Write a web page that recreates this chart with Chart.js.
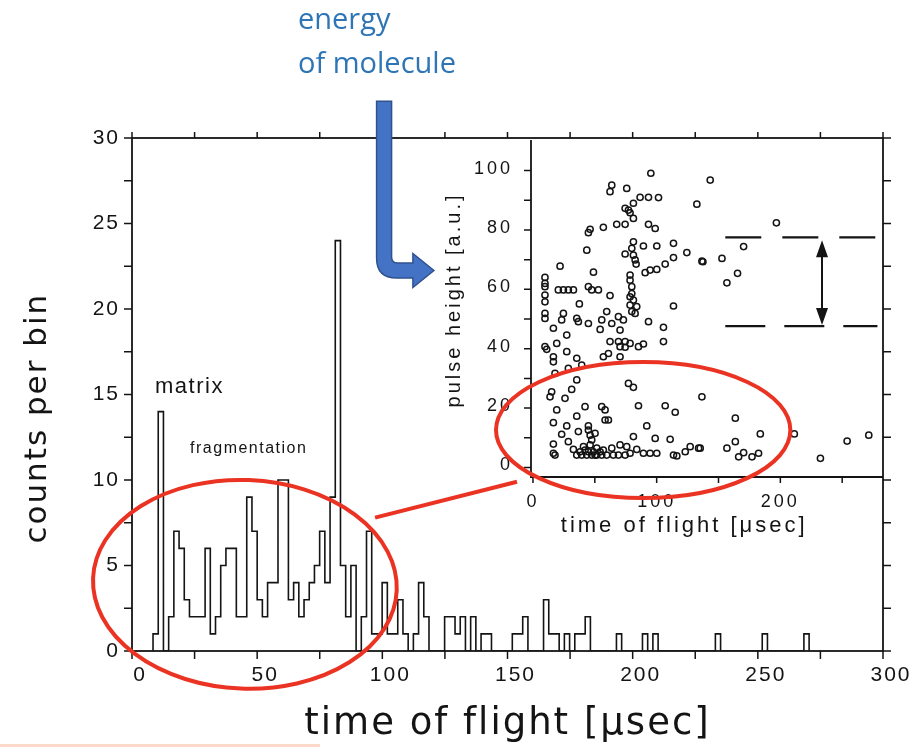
<!DOCTYPE html>
<html>
<head>
<meta charset="utf-8">
<title>time of flight</title>
<script src="https://cdn.jsdelivr.net/npm/chart.js"></script>
<style>
  html, body { margin: 0; padding: 0; background: #fff; }
  #wrap { position: relative; width: 914px; height: 747px; overflow: hidden; background: #fff; }
  #wrap canvas { position: absolute; left: 0; top: 0; }
  #note { position: absolute; left: 298px; top: -4px; z-index: 3; color: #2e75b6;
          font: 29px "Open Sans", sans-serif; line-height: 44px; }
  #edge { position: absolute; left: 0; top: 744px; width: 320px; height: 3px; background: #fcd9c9; }
</style>
</head>
<body>
<div id="wrap">
  <canvas id="main" width="914" height="747"></canvas>
  <canvas id="inset" width="914" height="747"></canvas>
  <div id="note">energy<br>of molecule</div>
  <div id="edge"></div>
</div>
<script>
// histogram: bins of equal width, first bin starts at binStart (µsec)
const binStart = 8.4;
const binWidth = 2.08;
const binCounts = [
  1, 14, 0, 2, 7, 6, 3, 2, 2, 2,
  6, 1, 2, 5, 6, 6, 2, 2, 9, 7,
  3, 2, 4, 4, 10, 10, 3, 4, 2, 3,
  4, 5, 7, 4, 9, 24, 5, 2, 5, 0,
  2, 7, 1, 1, 4, 1, 1, 3, 1, 0,
  1, 4, 2, 0, 0, 0, 2, 2, 1, 2,
  0, 2, 0, 1, 1, 0, 0, 0, 0, 1,
  1, 2, 0, 0, 0, 3, 1, 1, 0, 1,
  0, 1, 1, 2, 0, 0, 0, 0, 0, 1,
  0, 0, 0, 0, 1, 0, 1, 0, 0, 0,
  0, 0, 0, 0, 0, 0, 0, 0, 1, 0,
  0, 0, 0, 0, 0, 0, 0, 1, 0, 0,
  0, 0, 0, 0, 0, 1
];
const flightTicks = [0, 50, 100, 150, 200, 250, 300];
const countTicks = [0, 5, 10, 15, 20, 25, 30];

// inset: pulse height vs time of flight
const pulseTimes = [
  95.3, 63.7, 62.3, 75.8, 86.6, 93.4, 101.5, 81.2, 132.5, 74.5,
  77.2, 78.5, 81.2, 46.2, 44.8, 56.9, 67.7, 74.5, 93.4, 98.8,
  43.5, 81.2, 79.9, 89.3, 100.1, 113.6, 124.4, 136.6, 74.5, 81.2,
  82.6, 83.4, 113.6, 106.9, 21.9, 48.9, 90.7, 94.7, 100.1, 9.7,
  9.7, 9.7, 9.7, 9.7, 20.5, 24.6, 28.6, 32.7, 44.8, 47.5,
  52.9, 78.5, 78.5, 79.9, 79.9, 81.2, 78.5, 83.9, 82.6, 79.9,
  62.3, 37.5, 59.6, 113.6, 9.7, 9.7, 24.6, 23.2, 35.4, 36.7,
  44.8, 55.6, 63.7, 69.1, 73.1, 70.4, 54.3, 93.4, 105.5, 16.5,
  27.3, 9.7, 11.1, 19.2, 27.3, 16.5, 16.5, 35.4, 39.4, 62.3,
  69.1, 74.5, 70.4, 74.5, 78.5, 85.3, 89.3, 105.5, 56.9, 61,
  70.4, 28.6, 17.8, 35.4, 77.2, 81.2, 31.3, 15.1, 13.8, 25.9,
  19.2, 42.1, 55.6, 58.3, 85.3, 106.9, 115, 16.5, 35.4, 58.3,
  61, 27.3, 44.8, 92, 23.2, 36.7, 46.2, 50.2, 98.8, 110.9,
  81.2, 16.5, 16.5, 17.8, 28.6, 32.7, 40.8, 46.2, 51.6, 56.9,
  63.7, 70.4, 75.8, 83.9, 89.3, 94.7, 100.1, 113.6, 116.3, 123.1,
  127.1, 133.9, 35.4, 39.4, 43.5, 47.5, 51.6, 55.6, 59.6, 65,
  69.1, 74.5, 78.5, 38.1, 42.1, 47.5, 44.8, 48.9, 54.3, 44.8,
  50.2, 78.5, 143.3, 196.8, 170.3, 137.4, 152.8, 165.4, 156.8, 136.6,
  163.6, 183.8, 211.3, 135.2, 156.8, 163.6, 166.3, 170.3, 177.1, 182.4,
  232.4, 254, 271.5
];
const pulseHeights = [
  99.1, 95.1, 92.9, 94, 91, 91, 90.9, 89, 88.7, 87.3,
  86.7, 85.8, 83.9, 80.2, 79.1, 80.9, 81.9, 81.9, 81.9, 80.5,
  73.2, 76, 73.8, 74.6, 74.6, 75.5, 72.4, 69.5, 71.9, 71.5,
  69.9, 68.5, 70.7, 68.5, 67.8, 65.8, 65.6, 66.5, 66.7, 64,
  62, 60.9, 58.1, 55.8, 59.8, 59.8, 59.8, 59.8, 60.9, 59.8,
  59.8, 64.8, 63.1, 60.9, 58.6, 56.4, 54.7, 54.2, 51.9, 52.5,
  57.9, 55.1, 52.5, 54.4, 51.9, 50.2, 51.9, 49.7, 50.2, 49.1,
  48.5, 49.7, 48.5, 50.8, 49.7, 46.3, 46.5, 49.1, 47.2, 46.9,
  44.6, 40.7, 39.8, 41.8, 39, 37.3, 35.6, 36.8, 34.5, 42.4,
  42.4, 42.4, 40.7, 40.5, 41.8, 40.7, 41.6, 42.4, 37.3, 38.4,
  37.3, 33.4, 31.7, 29.5, 28.3, 27, 26.3, 25.5, 23.8, 23.3,
  19.4, 20.5, 20.5, 19.4, 20.8, 20.8, 18.6, 15.1, 17.3, 16,
  16, 14, 14, 14, 11.2, 12.1, 10.9, 11.5, 9.8, 9.5,
  10.4, 7.9, 4.8, 4.2, 8.7, 6.1, 7, 7.6, 6.5, 5.9,
  6.5, 7.6, 7, 6.1, 4.8, 4.8, 4.8, 4.2, 3.9, 5.3,
  7, 6.5, 4.2, 4.2, 4.2, 4.2, 4.2, 4.2, 4.2, 4.2,
  4.2, 4.2, 4.8, 5.3, 5.9, 9.3, 12.6, 5.3, 5.3, 5.3,
  4.2, 57.5, 96.8, 82.4, 74.4, 69.3, 70.4, 65.4, 62.2, 23.8,
  16.6, 11.3, 11.3, 6.5, 6.5, 8.7, 3.6, 5, 3.6, 4.8,
  3.1, 8.9, 10.9
];
const insetFlightTicks = [0, 100, 200];
const heightTicks = [0, 20, 40, 60, 80, 100];
// dashed window of the pulse-height band
const bandTimes = [155.5, 278.5];
const bandUpper = 77.5;
const bandLower = 47.6;

const peakLabels = ['matrix', 'fragmentation'];

// ---------------------------------------------------------------------
const histPoints = [{ x: binStart, y: 0 }];
binCounts.forEach((c, i) => histPoints.push({ x: binStart + i * binWidth, y: c }));
histPoints.push({ x: binStart + binCounts.length * binWidth, y: 0 });

const scatterPoints = pulseTimes.map((t, i) => ({ x: t, y: pulseHeights[i] }));

const INK = '#141414';
const RED = '#ea3323';
const range = (a, b, s) => Array.from({ length: Math.round((b - a) / s) + 1 }, (_, i) => a + i * s);

// outward tick marks on one side of the plot box
function marks(ctx, scale, values, edge, len) {
  const a = scale.chart.chartArea;
  ctx.beginPath();
  values.forEach(v => {
    const p = scale.getPixelForValue(v);
    if (edge === 'bottom') { ctx.moveTo(p, a.bottom); ctx.lineTo(p, a.bottom + len); }
    if (edge === 'top') { ctx.moveTo(p, a.top); ctx.lineTo(p, a.top - len); }
    if (edge === 'left') { ctx.moveTo(a.left, p); ctx.lineTo(a.left - len, p); }
    if (edge === 'right') { ctx.moveTo(a.right, p); ctx.lineTo(a.right + len, p); }
  });
  ctx.stroke();
}

// hand-drawn style ellipse given in data units of two scales
function ringOn(ctx, x, y, cx, cy, rx, ry, rot) {
  const px = x.getPixelForValue(cx), py = y.getPixelForValue(cy);
  const prx = Math.abs(x.getPixelForValue(cx + rx) - px);
  const pry = Math.abs(y.getPixelForValue(cy + ry) - py);
  ctx.beginPath();
  ctx.ellipse(px, py, prx, pry, rot, 0, Math.PI * 2);
  ctx.stroke();
}

const mainDecor = {
  id: 'mainDecor',
  beforeDraw(chart) { chart.ctx.letterSpacing = '2px'; },
  afterDraw(chart) {
    const { ctx, chartArea: a, scales: { x, y } } = chart;
    ctx.save();
    ctx.letterSpacing = '0px';
    ctx.strokeStyle = INK;
    ctx.lineWidth = 1.8;
    ctx.strokeRect(a.left, a.top, a.right - a.left, a.bottom - a.top);
    ctx.lineWidth = 1.5;
    marks(ctx, x, range(0, 300, 25), 'bottom', 8);
    marks(ctx, x, range(0, 300, 25), 'top', 6);
    marks(ctx, y, range(0, 30, 2.5), 'left', 8);
    marks(ctx, y, range(0, 30, 2.5), 'right', 8);

    // peak labels
    ctx.fillStyle = INK;
    ctx.textAlign = 'left';
    ctx.textBaseline = 'alphabetic';
    ctx.letterSpacing = '1.5px';
    ctx.font = '22px "Liberation Sans", Arial, sans-serif';
    ctx.fillText(peakLabels[0], x.getPixelForValue(9.2), y.getPixelForValue(15.1));
    ctx.font = '16px "Liberation Sans", Arial, sans-serif';
    ctx.fillText(peakLabels[1], x.getPixelForValue(23.2), y.getPixelForValue(11.6));

    // red ring round the low-mass region and link to the inset
    ctx.strokeStyle = RED;
    ctx.lineWidth = 4;
    ringOn(ctx, x, y, 45.1, 3.9, 60.7, 6.1, 0.04);
    ctx.beginPath();
    ctx.moveTo(x.getPixelForValue(97.1), y.getPixelForValue(7.8));
    ctx.lineTo(x.getPixelForValue(153.8), y.getPixelForValue(9.9));
    ctx.stroke();

    // blue bent arrow pointing at the inset axis
    const sx = x.getPixelForValue(100.7), top = y.getPixelForValue(32.15);
    const ay = y.getPixelForValue(22.25), tx = x.getPixelForValue(120.6);
    const hw = 7.5, hh = 17, hl = 21, ri = 6, ro = 20;
    ctx.beginPath();
    ctx.moveTo(sx - hw, top);
    ctx.lineTo(sx + hw, top);
    ctx.lineTo(sx + hw, ay - hw - ri);
    ctx.quadraticCurveTo(sx + hw, ay - hw, sx + hw + ri, ay - hw);
    ctx.lineTo(tx - hl, ay - hw);
    ctx.lineTo(tx - hl, ay - hh);
    ctx.lineTo(tx, ay);
    ctx.lineTo(tx - hl, ay + hh);
    ctx.lineTo(tx - hl, ay + hw);
    ctx.lineTo(sx - hw + ro, ay + hw);
    ctx.quadraticCurveTo(sx - hw, ay + hw, sx - hw, ay + hw - ro);
    ctx.closePath();
    ctx.fillStyle = '#4472c4';
    ctx.fill();
    ctx.strokeStyle = '#2f528f';
    ctx.lineWidth = 1.5;
    ctx.stroke();
    ctx.restore();
  }
};

const insetDecor = {
  id: 'insetDecor',
  beforeDraw(chart) { chart.ctx.letterSpacing = '3px'; },
  afterDraw(chart) {
    const { ctx, chartArea: a, scales: { x, y } } = chart;
    ctx.save();
    ctx.letterSpacing = '0px';
    ctx.strokeStyle = INK;
    ctx.lineWidth = 1.8;
    ctx.beginPath();
    ctx.moveTo(a.left, a.top);
    ctx.lineTo(a.left, a.bottom);
    ctx.lineTo(a.right, a.bottom);
    ctx.stroke();
    ctx.lineWidth = 1.5;
    marks(ctx, x, range(0, 250, 50), 'bottom', 6);
    marks(ctx, y, range(0, 100, 10), 'left', 7);

    // double arrow between the dashed band limits
    const ax = x.getPixelForValue(233.7);
    const y1 = y.getPixelForValue(bandUpper - 1), y2 = y.getPixelForValue(bandLower + 0.4);
    ctx.fillStyle = INK;
    ctx.lineWidth = 2;
    ctx.beginPath();
    ctx.moveTo(ax, y1 + 10); ctx.lineTo(ax, y2 - 10);
    ctx.stroke();
    ctx.beginPath();
    ctx.moveTo(ax, y1); ctx.lineTo(ax - 6, y1 + 17); ctx.lineTo(ax + 6, y1 + 17); ctx.closePath();
    ctx.moveTo(ax, y2); ctx.lineTo(ax - 6, y2 - 17); ctx.lineTo(ax + 6, y2 - 17); ctx.closePath();
    ctx.fill();

    ctx.strokeStyle = RED;
    ctx.lineWidth = 4;
    ringOn(ctx, x, y, 89.1, 12.6, 119, 22.9, 0);
    ctx.restore();
  }
};

const tickFont = size => ({ family: '"Liberation Sans", Arial, sans-serif', size: size });

new Chart(document.getElementById('main'), {
  type: 'line',
  data: {
    datasets: [{
      data: histPoints,
      stepped: 'before',
      borderColor: INK,
      borderWidth: 1.6,
      pointRadius: 0,
      fill: false
    }]
  },
  options: {
    responsive: false,
    animation: false,
    layout: { padding: { top: 138, right: 31, left: 0, bottom: 0 } },
    plugins: { legend: { display: false }, tooltip: { enabled: false } },
    scales: {
      x: {
        type: 'linear', min: 0, max: 300,
        afterBuildTicks: s => { s.ticks = flightTicks.map(v => ({ value: v })); },
        afterFit: s => { s.height = 96; },
        grid: { display: false, drawTicks: false },
        border: { display: false },
        ticks: { font: tickFont(21), color: INK, padding: 12, labelOffset: 8, maxRotation: 0, autoSkip: false },
        title: {
          display: true, text: 'time of flight [μsec]', color: INK,
          font: { family: '"DejaVu Sans", sans-serif', size: 37 },
          padding: { top: 0, bottom: 0 }
        }
      },
      y: {
        type: 'linear', min: 0, max: 30,
        afterBuildTicks: s => { s.ticks = countTicks.map(v => ({ value: v })); },
        afterFit: s => { s.width = 132; },
        grid: { display: false, drawTicks: false },
        border: { display: false },
        ticks: { font: tickFont(21), color: INK, padding: 12 },
        title: {
          display: true, text: 'counts per bin\u00a0\u00a0\u00a0\u00a0', color: INK,
          font: { family: '"DejaVu Sans", sans-serif', size: 31 },
          padding: { top: 19, bottom: 0 }
        }
      }
    }
  },
  plugins: [mainDecor]
});

new Chart(document.getElementById('inset'), {
  type: 'scatter',
  data: {
    datasets: [
      {
        data: scatterPoints,
        pointStyle: 'circle',
        pointRadius: 3.1,
        pointBorderWidth: 1.5,
        borderColor: INK,
        backgroundColor: 'rgba(0,0,0,0)'
      },
      {
        data: bandTimes.map(t => ({ x: t, y: bandUpper })),
        showLine: true, pointRadius: 0,
        borderColor: INK, borderWidth: 2.2, borderDash: [36, 21]
      },
      {
        data: bandTimes.map(t => ({ x: t, y: bandLower })),
        showLine: true, pointRadius: 0,
        borderColor: INK, borderWidth: 2.2, borderDash: [40, 19]
      }
    ]
  },
  options: {
    responsive: false,
    animation: false,
    layout: { padding: { top: 140, right: 31, left: 430, bottom: 200 } },
    plugins: { legend: { display: false }, tooltip: { enabled: false } },
    scales: {
      x: {
        type: 'linear', min: -1.6, max: 283,
        afterBuildTicks: s => { s.ticks = insetFlightTicks.map(v => ({ value: v })); },
        afterFit: s => { s.height = 70; },
        grid: { display: false, drawTicks: false },
        border: { display: false },
        ticks: { font: tickFont(18), color: INK, padding: 14, maxRotation: 0, autoSkip: false },
        title: {
          display: true, text: 'time of flight [μsec]\u00a0\u00a0\u00a0\u00a0\u00a0', color: INK,
          font: tickFont(22),
          padding: { top: 0, bottom: 8 }
        }
      },
      y: {
        type: 'linear', min: -3.2, max: 110.3,
        afterBuildTicks: s => { s.ticks = heightTicks.map(v => ({ value: v })); },
        afterFit: s => { s.width = 101; },
        grid: { display: false, drawTicks: false },
        border: { display: false },
        ticks: { font: tickFont(18), color: INK, padding: 18, labelOffset: -2 },
        title: {
          display: true, text: '\u00a0\u00a0pulse height [a.u.]', color: INK,
          font: tickFont(20),
          padding: { top: 12, bottom: 0 }
        }
      }
    }
  },
  plugins: [insetDecor]
});
</script>
</body>
</html>
